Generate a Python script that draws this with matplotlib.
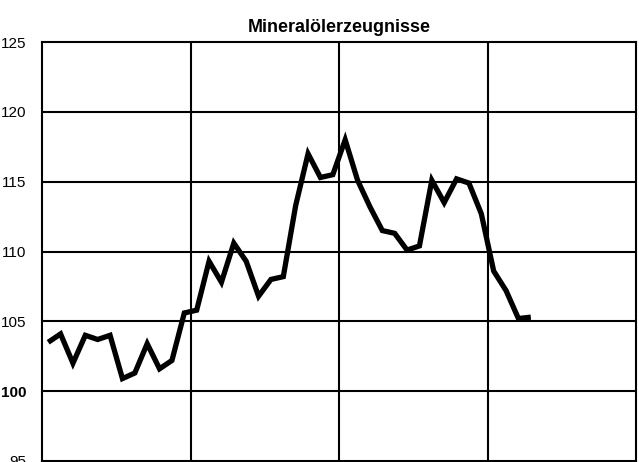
import matplotlib
matplotlib.use("Agg")
import matplotlib.pyplot as plt
import numpy as np

title = "Mineralölerzeugnisse"
y_ticks = [95, 100, 105, 110, 115, 120, 125]
y_tick_labels = ["95", "100", "105", "110", "115", "120", "125"]
year_bounds = [0, 12, 24, 36, 48]

values_y1 = [103.5, 104.1, 102.0, 104.0, 103.7, 104.0, 100.9, 101.3, 103.4, 101.6, 102.2, 105.6]
values_y2 = [105.8, 109.3, 107.8, 110.6, 109.3, 106.8, 108.0, 108.2, 113.3, 117.0, 115.3, 115.5]
values_y3 = [118.0, 115.1, 113.2, 111.5, 111.3, 110.1, 110.4, 115.1, 113.5, 115.2, 114.9, 112.7]
values_y4 = [108.6, 107.2, 105.2, 105.3]

values = values_y1 + values_y2 + values_y3 + values_y4
months = np.arange(len(values)) + 0.5

plt.rcParams['font.family'] = ['Liberation Sans', 'DejaVu Sans']

fig = plt.figure(figsize=(6.39, 4.62), dpi=100)
ax = fig.add_axes([42/639, 1/462, (636-42)/639, (461-42)/462])

ax.set_xlim(year_bounds[0], year_bounds[-1])
ax.set_ylim(95, 125)

for yv in y_ticks[1:-1]:
    ax.axhline(yv, color='black', lw=1.5, zorder=1)
for xv in year_bounds[1:-1]:
    ax.axvline(xv, color='black', lw=1.5, zorder=1)

ax.plot(months, values, color='black', lw=3.8, solid_joinstyle='miter', solid_capstyle='butt', zorder=3)

ax.set_yticks(y_ticks)
ax.set_yticklabels(y_tick_labels, fontsize=11)
for lbl in ax.get_yticklabels():
    if lbl.get_text() == "100":
        lbl.set_fontweight('bold')
ax.tick_params(axis='y', length=0, pad=11.5)
ax.set_xticks([])
for s in ax.spines.values():
    s.set_linewidth(1.5)
    s.set_color('black')

fig.text((42+636)/2/639, 1-27/462, title, ha='center', va='center', fontsize=12.9, fontweight='bold')

fig.savefig("out.png", dpi=100)
